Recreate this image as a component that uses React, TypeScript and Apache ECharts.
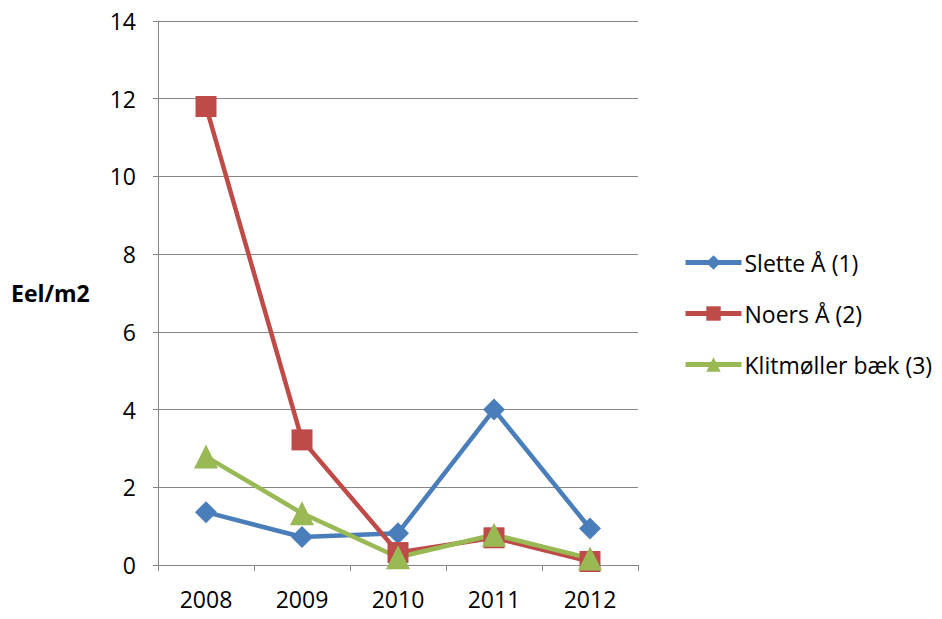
import React, { useEffect, useRef } from "react";
import * as echarts from "echarts";

const years = ["2008", "2009", "2010", "2011", "2012"];
const sletteA = [1.36, 0.72, 0.82, 4.0, 0.94];
const noersA = [11.8, 3.22, 0.32, 0.7, 0.09];
const klitmoller = [2.79, 1.33, 0.2, 0.78, 0.17];
const seriesNames = ["Slette Å (1)", "Noers Å (2)", "Klitmøller bæk (3)"];
const yAxisTitle = "Eel/m2";

const FONT = "'Open Sans', 'Liberation Sans', sans-serif";

export default function App() {
  const ref = useRef<HTMLDivElement>(null);
  useEffect(() => {
    if (!ref.current) return;
    const chart = echarts.init(ref.current, undefined, { renderer: "svg" });
    const mk = (name: string, data: number[], color: string, symbol: string, size: number) => ({
      name,
      type: "line",
      data,
      symbol,
      symbolSize: size,
      lineStyle: { color, width: 4.5 },
      itemStyle: { color },
      z: 3,
    });
    chart.setOption({
      animation: false,
      textStyle: { fontFamily: FONT },
      grid: { left: 158, right: 304, top: 21, bottom: 54 },
      legend: {
        orient: "vertical",
        left: 678,
        top: 246,
        itemWidth: 56,
        itemHeight: 18,
        itemGap: 28,
        lineStyle: { width: 5 },
        textStyle: { fontSize: 23, color: "#000", fontFamily: FONT, padding: [0, 0, 0, -2] },
        data: seriesNames,
      },
      xAxis: {
        type: "category",
        data: years,
        boundaryGap: true,
        axisLine: { lineStyle: { color: "#868686", width: 1 } },
        axisTick: { show: true, length: 6, alignWithLabel: false, lineStyle: { color: "#868686" } },
        axisLabel: { fontSize: 23, color: "#000", margin: 22, fontFamily: FONT },
      },
      yAxis: {
        type: "value",
        min: 0,
        max: 14,
        interval: 2,
        axisLine: { show: true, lineStyle: { color: "#868686", width: 1 } },
        axisTick: { show: true, length: 5, lineStyle: { color: "#868686" } },
        splitLine: { lineStyle: { color: "#868686", width: 1 } },
        axisLabel: { fontSize: 23, color: "#000", margin: 22, fontFamily: FONT },
      },
      graphic: [
        {
          type: "text",
          left: 11,
          top: 281,
          style: { text: yAxisTitle, font: `bold 23px ${FONT}`, fill: "#000" },
        },
      ],
      series: [
        mk(seriesNames[0], sletteA, "#4a7ebb", "diamond", 22),
        mk(seriesNames[1], noersA, "#be4b48", "rect", 21),
        mk(seriesNames[2], klitmoller, "#98b954", "triangle", 24),
      ],
    });
    return () => chart.dispose();
  }, []);
  return <div ref={ref} style={{ width: 942, height: 619, position: "absolute", left: 0, top: 0 }} />;
}
